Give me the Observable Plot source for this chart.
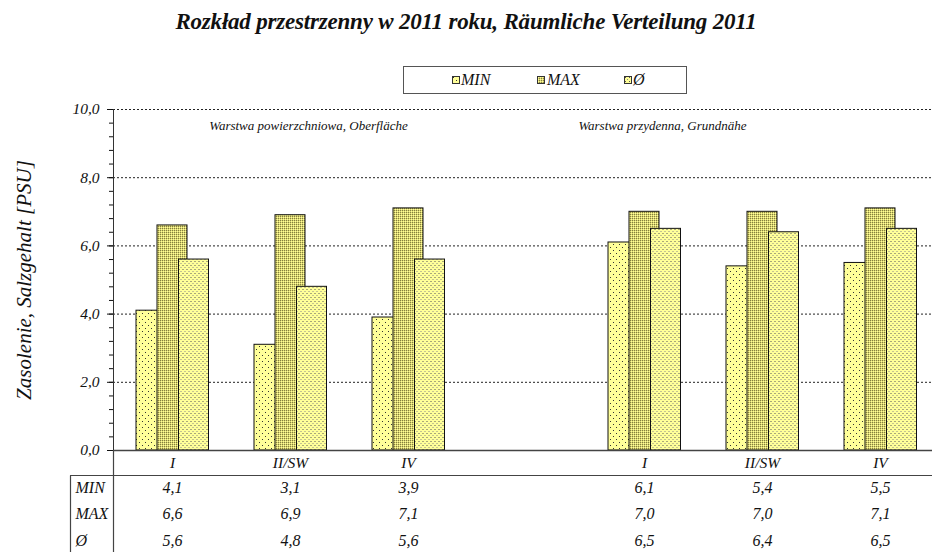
<!DOCTYPE html>
<html><head><meta charset="utf-8">
<script src="https://cdn.jsdelivr.net/npm/d3@7"></script>
<script src="https://cdn.jsdelivr.net/npm/@observablehq/plot@0.6"></script>
<style>
body{margin:0;background:#fff;}
#wrap{position:relative;width:932px;height:552px;overflow:hidden;font-family:"Liberation Serif","Times New Roman","DejaVu Serif",serif;font-style:italic;color:#111;}
#title{position:absolute;left:0;top:9px;width:932px;text-align:center;font-weight:bold;font-size:23px;white-space:nowrap;letter-spacing:-0.2px;}
#legend{position:absolute;left:403px;top:66px;width:284px;height:28px;border:1px solid #555;box-sizing:border-box;}
#legend .sw{position:absolute;top:9px;width:8px;height:8px;}
#legend .lt{position:absolute;top:4px;font-size:16px;line-height:18px;}
#chart{position:absolute;left:0;top:0;}
</style></head>
<body>
<svg width="0" height="0" style="position:absolute">
<defs>
<pattern id="pMin" patternUnits="userSpaceOnUse" width="6" height="6">
<rect width="6" height="6" fill="#FFFF99"/><rect x="1" y="1" width="1" height="1" fill="#333"/><rect x="4" y="4" width="1" height="1" fill="#333"/>
</pattern>
<pattern id="pMax" patternUnits="userSpaceOnUse" width="2" height="2">
<rect width="2" height="2" fill="#DAD470"/><rect x="0" y="0" width="1" height="1" fill="#848040"/><rect x="1" y="1" width="1" height="1" fill="#FFFF99"/>
</pattern>
<pattern id="pAvg" patternUnits="userSpaceOnUse" width="4" height="4">
<rect width="4" height="4" fill="#FFFF99"/><rect x="1" y="1" width="1" height="1" fill="#555"/><rect x="3" y="3" width="1" height="1" fill="#888"/>
</pattern>
</defs>
</svg>
<div id="wrap">
<div id="chart"></div>
<div id="title"></div>
<div id="legend"></div>
</div>
<script>
const titleText = "Rozkład przestrzenny w 2011 roku, Räumliche Verteilung 2011";
const yLabel = "Zasolenie, Salzgehalt [PSU]";
const layerNames = ["Warstwa powierzchniowa, Oberfläche", "Warstwa przydenna, Grundnähe"];
const stationLabels = ["I", "II/SW", "IV"];
const seriesNames = ["MIN", "MAX", "Ø"];
const minValues = [4.1, 3.1, 3.9, 6.1, 5.4, 5.5];
const maxValues = [6.6, 6.9, 7.1, 7.0, 7.0, 7.1];
const avgValues = [5.6, 4.8, 5.6, 6.5, 6.4, 6.5];
const yTicks = [0, 2, 4, 6, 8, 10];
const yMinorTicks = [0, 0.4, 0.8, 1.2, 1.6, 2, 2.4, 2.8, 3.2, 3.6, 4, 4.4, 4.8, 5.2, 5.6, 6, 6.4, 6.8, 7.2, 7.6, 8, 8.4, 8.8, 9.2, 9.6, 10];

const fmt = v => v.toFixed(1).replace(".", ",");
const FONT = "'Liberation Serif', 'Times New Roman', 'DejaVu Serif', serif";

// slots: 3 stations per layer, one empty slot between layers
const domain = [];
layerNames.forEach((l, li) => {
  if (li > 0) domain.push("gap");
  stationLabels.forEach(st => domain.push(li + "|" + st));
});
const rows = [];
layerNames.forEach((l, li) => stationLabels.forEach((st, si) => {
  const i = li * stationLabels.length + si;
  rows.push({slot: li + "|" + st, min: minValues[i], max: maxValues[i], avg: avgValues[i]});
}));
const layerAnchors = layerNames.map((l, li) => ({name: l, slot: li === 0 ? "0|II/SW" : "1|I"}));

document.getElementById("title").textContent = titleText;

const fills = ["url(#pMin)", "url(#pMax)", "url(#pAvg)"];
const rowDy = [42, 68, 95];
const keys = ["min", "max", "avg"];

const chart = Plot.plot({
  width: 932, height: 552,
  marginTop: 109, marginBottom: 102, marginLeft: 113, marginRight: 0,
  style: {fontFamily: FONT, fontStyle: "italic", fontSize: "15px", background: "transparent", color: "#111"},
  x: {type: "band", domain, range: [113, 939], paddingInner: 0.745, paddingOuter: 0.3725, align: 0.5},
  y: {domain: [0, 10], range: [450, 109]},
  marks: [
    Plot.ruleY(yTicks.filter(d => d > 0), {stroke: "#222", strokeDasharray: "2,2", strokeWidth: 1}),
    Plot.barY(rows, {x: "slot", y: "min", fill: fills[0], stroke: "#111", strokeWidth: 1, dx: -21}),
    Plot.barY(rows, {x: "slot", y: "max", fill: fills[1], stroke: "#111", strokeWidth: 1}),
    Plot.barY(rows, {x: "slot", y: "avg", fill: fills[2], stroke: "#111", strokeWidth: 1, dx: 21.5}),
    Plot.ruleY([0], {stroke: "#444", strokeWidth: 1.5}),
    Plot.frame({anchor: "left", stroke: "#333"}),
    Plot.axisY({ticks: yMinorTicks, tickSize: 4, tickFormat: () => "", label: null}),
    Plot.axisY({ticks: yTicks, tickSize: 6, tickPadding: 8, tickFormat: fmt, label: null, fontSize: 15.5}),
    Plot.axisY({ticks: [], label: yLabel, labelAnchor: "center", labelOffset: 97, labelArrow: "none", fontSize: 21}),
    Plot.axisX({tickFormat: d => d === "gap" ? "" : d.split("|")[1], tickSize: 0, tickPadding: 6, label: null, fontSize: 15.5}),
    Plot.text(layerAnchors, {x: "slot", text: "name", frameAnchor: "top", dy: 11, dx: 18, fontSize: 13}),
    ...keys.map((k, j) => Plot.text(rows, {x: "slot", text: d => fmt(d[k]), frameAnchor: "bottom", dy: rowDy[j], fontSize: 16})),
    ...seriesNames.map((n, j) => Plot.text([n], {text: d => d, frameAnchor: "bottom-left", textAnchor: "start", dx: -38, dy: rowDy[j], fontSize: 16}))
  ]
});
document.getElementById("chart").appendChild(chart);
d3.select(chart).selectAll("text").style("font-family", FONT).style("font-style", "italic");

// table borders below the axis
const svg = d3.select(chart);
const y0 = chart.scale("y").apply(0);
const g = svg.append("g").attr("stroke", "#444").attr("stroke-width", 1.2);
g.append("line").attr("x1", 70).attr("x2", 932).attr("y1", y0 + 25.5).attr("y2", y0 + 25.5);
g.append("line").attr("x1", 70.5).attr("x2", 70.5).attr("y1", y0 + 25.5).attr("y2", 552);
g.append("line").attr("x1", 113.5).attr("x2", 113.5).attr("y1", y0).attr("y2", 552);

// legend
const legend = document.getElementById("legend");
const swX = [48, 133, 220];
const ltX = [57, 143, 229];
seriesNames.forEach((n, j) => {
  const s = document.createElementNS("http://www.w3.org/2000/svg", "svg");
  s.setAttribute("class", "sw");
  s.setAttribute("width", 8); s.setAttribute("height", 8);
  s.style.left = swX[j] + "px";
  s.innerHTML = `<rect x="0.5" y="0.5" width="7" height="7" fill="${fills[j]}" stroke="#333" stroke-width="1"/>`;
  legend.appendChild(s);
  const t = document.createElement("span");
  t.className = "lt"; t.textContent = n; t.style.left = ltX[j] + "px";
  legend.appendChild(t);
});
</script>
</body></html>
